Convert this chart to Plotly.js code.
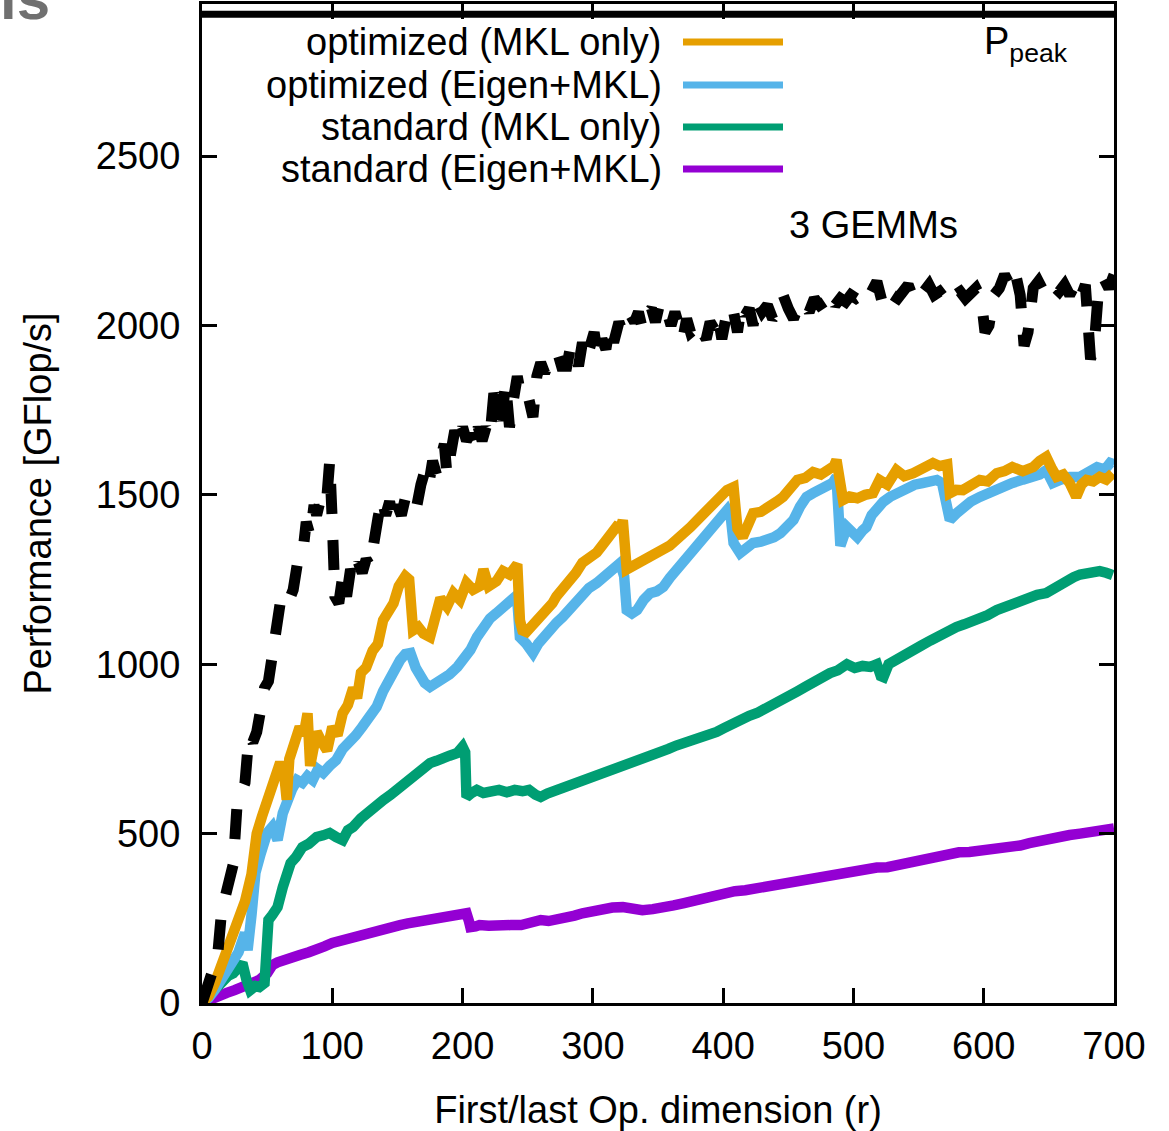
<!DOCTYPE html>
<html><head><meta charset="utf-8">
<script src="https://cdn.plot.ly/plotly-3.0.1.min.js"></script>
<style>html,body{margin:0;padding:0;background:#fff}</style>
</head><body><div id="chart" style="width:1169px;height:1131px"></div>
<script>
// ---------------- DATA ----------------
const seriesNames = ["optimized (MKL only)", "optimized (Eigen+MKL)", "standard (MKL only)", "standard (Eigen+MKL)"];
const seriesColors = ["#E69F00", "#56B4E9", "#009E73", "#9400D3"];
const gemmLabel = "3 GEMMs";
const peakLabel = "P<sub>peak</sub>";
const peakValue = 2918.4;
const xTicks = [0, 100, 200, 300, 400, 500, 600, 700];
const yTicks = [0, 500, 1000, 1500, 2000, 2500];

// [r, GFlop/s] pairs
const optMkl = [[0,0],[5,20],[10,60],[15,110],[20,150],[24,200],[29,250],[33,300],[38,380],[42,500],[46,550],[50,600],[55,650],[60,710],[63,680],[65,600],[67,720],[71,760],[75,815],[78,790],[81,855],[83,700],[86,760],[88,800],[92,770],[96,745],[100,815],[104,790],[108,855],[112,880],[116,930],[119,900],[122,975],[126,990],[131,1040],[135,1060],[139,1130],[143,1150],[147,1180],[151,1230],[156,1260],[159,1250],[162,1100],[166,1110],[170,1090],[175,1080],[179,1150],[183,1195],[188,1170],[193,1210],[198,1190],[203,1240],[208,1220],[213,1230],[216,1280],[220,1230],[226,1245],[231,1275],[236,1265],[242,1295],[244,1130],[246,1100],[249,1095],[253,1110],[257,1125],[261,1140],[265,1160],[269,1180],[272,1200],[277,1220],[282,1248],[287,1270],[292,1300],[297,1310],[303,1330],[307,1350],[311,1375],[315,1390],[318,1405],[321,1400],[323,1425],[326,1280],[331,1290],[336,1300],[341,1316],[346,1320],[354,1337],[359,1350],[364,1367],[370,1385],[375,1405],[380,1425],[385,1446],[390,1465],[395,1485],[399,1500],[403,1514],[408,1523],[411,1400],[415,1375],[419,1410],[423,1446],[429,1450],[436,1464],[441,1480],[446,1494],[450,1510],[454,1535],[457,1544],[463,1550],[469,1567],[475,1560],[482,1573],[485,1585],[487,1603],[490,1550],[492,1485],[497,1495],[503,1490],[509,1500],[515,1505],[520,1544],[526,1530],[533,1573],[539,1555],[546,1564],[553,1575],[561,1594],[566,1585],[572,1590],[574,1505],[579,1515],[584,1514],[590,1530],[597,1544],[603,1540],[610,1564],[616,1570],[622,1582],[630,1570],[638,1582],[643,1600],[648,1612],[652,1580],[656,1553],[661,1560],[666,1535],[671,1494],[675,1530],[679,1544],[684,1540],[689,1553],[694,1545],[699,1564]];

const optEigen = [[0,0],[5,15],[10,40],[15,70],[20,100],[24,127],[28,150],[33,207],[35,156],[38,260],[41,384],[45,440],[50,502],[54,520],[58,481],[62,560],[65,599],[69,630],[73,658],[77,650],[81,670],[85,658],[89,690],[93,679],[98,700],[103,717],[108,750],[113,776],[118,790],[123,815],[128,840],[134,874],[139,920],[144,962],[148,990],[152,1012],[156,1030],[160,1033],[164,990],[167,962],[171,945],[175,933],[180,945],[185,953],[190,970],[196,992],[201,1015],[206,1042],[211,1080],[216,1110],[221,1135],[226,1151],[231,1170],[236,1189],[240,1198],[242,1190],[244,1080],[249,1060],[254,1033],[258,1060],[262,1080],[267,1100],[272,1122],[277,1140],[282,1160],[287,1185],[292,1210],[297,1225],[303,1240],[308,1255],[313,1269],[317,1285],[321,1299],[324,1260],[326,1160],[330,1150],[334,1160],[339,1190],[344,1210],[349,1215],[354,1228],[359,1255],[364,1278],[370,1300],[375,1328],[380,1350],[385,1375],[390,1395],[395,1417],[399,1435],[403,1455],[406,1430],[408,1358],[413,1328],[418,1345],[423,1358],[429,1362],[434,1367],[439,1375],[444,1387],[449,1405],[454,1426],[459,1465],[464,1494],[469,1505],[474,1514],[479,1525],[484,1535],[487,1553],[488,1370],[490,1350],[495,1405],[499,1390],[503,1375],[507,1395],[510,1405],[514,1440],[518,1464],[523,1480],[528,1494],[534,1505],[541,1523],[547,1530],[553,1535],[559,1540],[564,1544],[568,1535],[572,1464],[574,1426],[579,1445],[584,1464],[590,1480],[597,1494],[603,1505],[610,1514],[616,1525],[622,1535],[630,1545],[638,1553],[643,1560],[648,1573],[653,1535],[659,1545],[666,1553],[674,1553],[680,1570],[687,1582],[693,1575],[697,1594],[700,1590]];

const stdMkl = [[0,0],[4,15],[8,35],[12,55],[16,68],[20,80],[24,88],[28,105],[31,118],[34,70],[37,38],[41,50],[44,47],[48,59],[50,150],[51,245],[54,260],[58,283],[62,342],[65,380],[68,413],[72,430],[77,460],[82,470],[88,490],[93,495],[98,502],[103,490],[108,481],[112,510],[116,520],[122,545],[129,570],[134,585],[139,599],[145,615],[152,638],[158,655],[165,679],[170,695],[175,708],[180,715],[185,726],[190,730],[196,738],[200,756],[202,740],[203,608],[207,620],[211,629],[216,620],[222,625],[228,629],[234,622],[240,629],[246,625],[251,629],[256,615],[260,608],[265,618],[270,625],[276,629],[282,640],[288,648],[295,658],[301,665],[307,672],[313,679],[320,690],[326,698],[332,708],[339,720],[345,728],[351,738],[358,750],[364,760],[370,767],[376,772],[382,778],[388,785],[395,800],[401,812],[407,826],[414,840],[420,848],[426,856],[432,870],[438,882],[444,894],[450,908],[457,920],[463,933],[469,948],[476,962],[482,974],[488,982],[495,1000],[501,989],[507,995],[513,992],[518,1000],[521,965],[523,962],[527,1000],[532,1012],[538,1030],[545,1042],[552,1055],[559,1070],[566,1085],[572,1101],[579,1110],[585,1118],[591,1125],[597,1130],[603,1145],[610,1160],[616,1170],[622,1181],[628,1190],[635,1198],[641,1205],[648,1210],[654,1225],[660,1240],[665,1250],[669,1257],[674,1265],[679,1270],[684,1278],[689,1275],[694,1270],[699,1263]];

const stdEigen = [[0,0],[5,10],[10,18],[15,25],[19,30],[25,38],[31,47],[38,55],[44,68],[50,88],[54,112],[58,120],[62,127],[68,135],[75,142],[82,150],[88,156],[94,167],[100,177],[107,185],[114,192],[120,200],[127,207],[133,215],[139,221],[145,226],[152,230],[158,235],[165,239],[171,245],[177,251],[184,252],[190,254],[196,260],[203,265],[205,240],[206,224],[210,226],[213,230],[220,228],[228,232],[237,230],[245,230],[252,238],[260,245],[266,242],[272,247],[279,245],[286,258],[292,265],[299,272],[307,280],[315,282],[323,283],[330,278],[338,274],[346,277],[354,280],[362,288],[370,295],[377,302],[385,310],[393,318],[401,325],[409,330],[417,333],[424,338],[432,342],[440,348],[447,354],[455,358],[463,363],[471,370],[479,378],[487,383],[494,387],[502,393],[510,398],[518,400],[526,401],[534,408],[542,416],[550,424],[557,431],[565,437],[573,443],[581,445],[589,446],[597,449],[604,452],[612,455],[620,457],[628,465],[635,472],[643,480],[651,487],[659,492],[666,496],[674,500],[682,505],[690,510],[698,516],[700,515]];

const gemm3 = [[0,0],[3,30],[6,65],[9,100],[12,140],[15,270],[18,320],[21,370],[24,410],[27,590],[30,620],[33,650],[36,790],[39,770],[42,800],[45,900],[48,930],[51,950],[55,1050],[60,1180],[63,1200],[66,1180],[70,1220],[72,1300],[75,1340],[78,1350],[80,1420],[83,1380],[86,1470],[88,1440],[90,1480],[93,1520],[96,1500],[98,1600],[100,1420],[102,1200],[105,1180],[108,1260],[111,1200],[114,1280],[117,1250],[120,1300],[123,1270],[126,1310],[129,1290],[132,1380],[135,1430],[138,1490],[141,1440],[144,1480],[147,1420],[150,1470],[153,1440],[156,1490],[159,1460],[162,1480],[165,1470],[168,1530],[171,1570],[174,1530],[177,1600],[180,1560],[183,1610],[186,1650],[188,1560],[191,1620],[194,1690],[197,1650],[200,1700],[203,1660],[206,1680],[209,1640],[212,1700],[215,1660],[218,1700],[221,1670],[224,1800],[227,1760],[230,1720],[233,1830],[236,1700],[239,1780],[242,1850],[245,1790],[248,1800],[251,1780],[254,1730],[257,1850],[260,1890],[263,1860],[266,1890],[270,1900],[273,1920],[276,1880],[280,1880],[283,1940],[286,1930],[289,1880],[292,1950],[295,1900],[298,1930],[301,1980],[304,1900],[307,1960],[310,1930],[313,2000],[316,1950],[320,2010],[323,1980],[326,2000],[329,2030],[332,2010],[335,2040],[338,1990],[341,2030],[345,2050],[348,2010],[351,2060],[354,2030],[357,2040],[360,2000],[363,2040],[366,2010],[369,1960],[372,2020],[375,1980],[378,1990],[381,2010],[384,1980],[387,1960],[390,2010],[393,1990],[396,2030],[399,1960],[402,2020],[405,2000],[408,2040],[411,1980],[414,2060],[417,2030],[420,2050],[423,2000],[426,2070],[430,2040],[434,2060],[438,2020],[442,2040],[446,2090],[450,2050],[454,2020],[458,2060],[462,2070],[466,2040],[470,2080],[474,2060],[478,2070],[482,2100],[486,2060],[490,2080],[494,2070],[498,2090],[502,2080],[506,2090],[510,2070],[514,2100],[518,2130],[522,2070],[526,2110],[530,2090],[534,2080],[538,2100],[542,2120],[546,2080],[550,2110],[554,2100],[558,2120],[562,2090],[566,2100],[570,2080],[574,2110],[578,2090],[582,2100],[586,2080],[590,2100],[594,2110],[598,2080],[601,1980],[604,2000],[608,2090],[612,2110],[616,2150],[620,2120],[624,2160],[628,2090],[631,1940],[634,1980],[638,2110],[642,2130],[646,2100],[650,2130],[654,2110],[658,2100],[662,2120],[666,2090],[670,2120],[674,2080],[678,2120],[682,1900],[685,1950],[688,2100],[692,2140],[696,2110],[700,2150]];

// ---------------- BUILD ----------------
const FONT = "Liberation Sans, Arial, sans-serif";
const FS = 38;
const W = 1169, H = 1131;
const M = {l: 202, r: 55, t: 4, b: 128};
const plotH = H - M.t - M.b, plotW = W - M.l - M.r;
const px2x = p => (p - M.l) / plotW;
const py2y = p => (H - M.b - p) / plotH;

const colSeries = [optMkl, optEigen, stdMkl, stdEigen];
const drawOrder = [3, 2, 1, 0];
const traces = drawOrder.map(i => ({
  type: "scatter", mode: "lines", name: seriesNames[i],
  x: colSeries[i].map(p => p[0]), y: colSeries[i].map(p => p[1]),
  line: {color: seriesColors[i], width: 10.5}, showlegend: false, hoverinfo: "skip"
}));
traces.push({
  type: "scatter", mode: "lines", name: gemmLabel,
  x: gemm3.map(p => p[0]), y: gemm3.map(p => p[1]),
  line: {color: "#000000", width: 11, dash: "30px,26px"}, showlegend: false, hoverinfo: "skip"
});
traces.push({
  type: "scatter", mode: "lines", name: "Ppeak",
  x: [xTicks[0], xTicks[xTicks.length - 1]], y: [peakValue, peakValue],
  line: {color: "#000000", width: 7}, showlegend: false, hoverinfo: "skip"
});

// custom gnuplot-style key: text right-aligned, sample on the right
const keyRows = [42, 85, 127, 169];
const annotations = [];
const shapes = [];
seriesNames.forEach((n, i) => {
  annotations.push({xref: "paper", yref: "paper", x: px2x(664), y: py2y(keyRows[i]),
    xanchor: "right", yanchor: "middle", text: n, showarrow: false,
    font: {family: FONT, size: FS, color: "#000"}});
  shapes.push({type: "line", xref: "paper", yref: "paper",
    x0: px2x(683), x1: px2x(783), y0: py2y(keyRows[i]), y1: py2y(keyRows[i]),
    line: {color: seriesColors[i], width: 7}});
});
annotations.push({xref: "paper", yref: "paper", x: px2x(982), y: py2y(44),
  xanchor: "left", yanchor: "middle", text: peakLabel, showarrow: false,
  font: {family: FONT, size: FS, color: "#000"}});
annotations.push({xref: "paper", yref: "paper", x: px2x(787), y: py2y(225),
  xanchor: "left", yanchor: "middle", text: gemmLabel, showarrow: false,
  font: {family: FONT, size: FS, color: "#000"}});
annotations.push({xref: "paper", yref: "paper", x: px2x(52), y: py2y(34),
  xanchor: "right", yanchor: "bottom", text: "ls", showarrow: false,
  font: {family: FONT, size: 60, color: "#707070", weight: "bold"}});

const axisCommon = {
  showgrid: false, zeroline: false, showline: true, linecolor: "#000", linewidth: 3,
  mirror: "ticks", ticks: "inside", ticklen: 15, tickwidth: 3, tickcolor: "#000",
  tickfont: {family: FONT, size: FS, color: "#000"}
};

const layout = {
  width: W, height: H, margin: M, paper_bgcolor: "#fff", plot_bgcolor: "#fff",
  font: {family: FONT, size: FS, color: "#000"},
  xaxis: Object.assign({}, axisCommon, {
    range: [0, 700], tickvals: xTicks, ticktext: xTicks.map(String), ticklabelstandoff: 7,
    title: {text: "First/last Op. dimension (r)", font: {family: FONT, size: FS, color: "#000"}, standoff: 32}
  }),
  yaxis: Object.assign({}, axisCommon, {
    range: [0, 2949], tickvals: yTicks, ticktext: yTicks.map(String), ticklabelstandoff: 11,
    title: {text: "Performance [GFlop/s]", font: {family: FONT, size: FS, color: "#000"}, standoff: 33}
  }),
  annotations: annotations, shapes: shapes, hovermode: false
};

Plotly.newPlot("chart", traces, layout, {staticPlot: true, displayModeBar: false});
</script></body></html>
